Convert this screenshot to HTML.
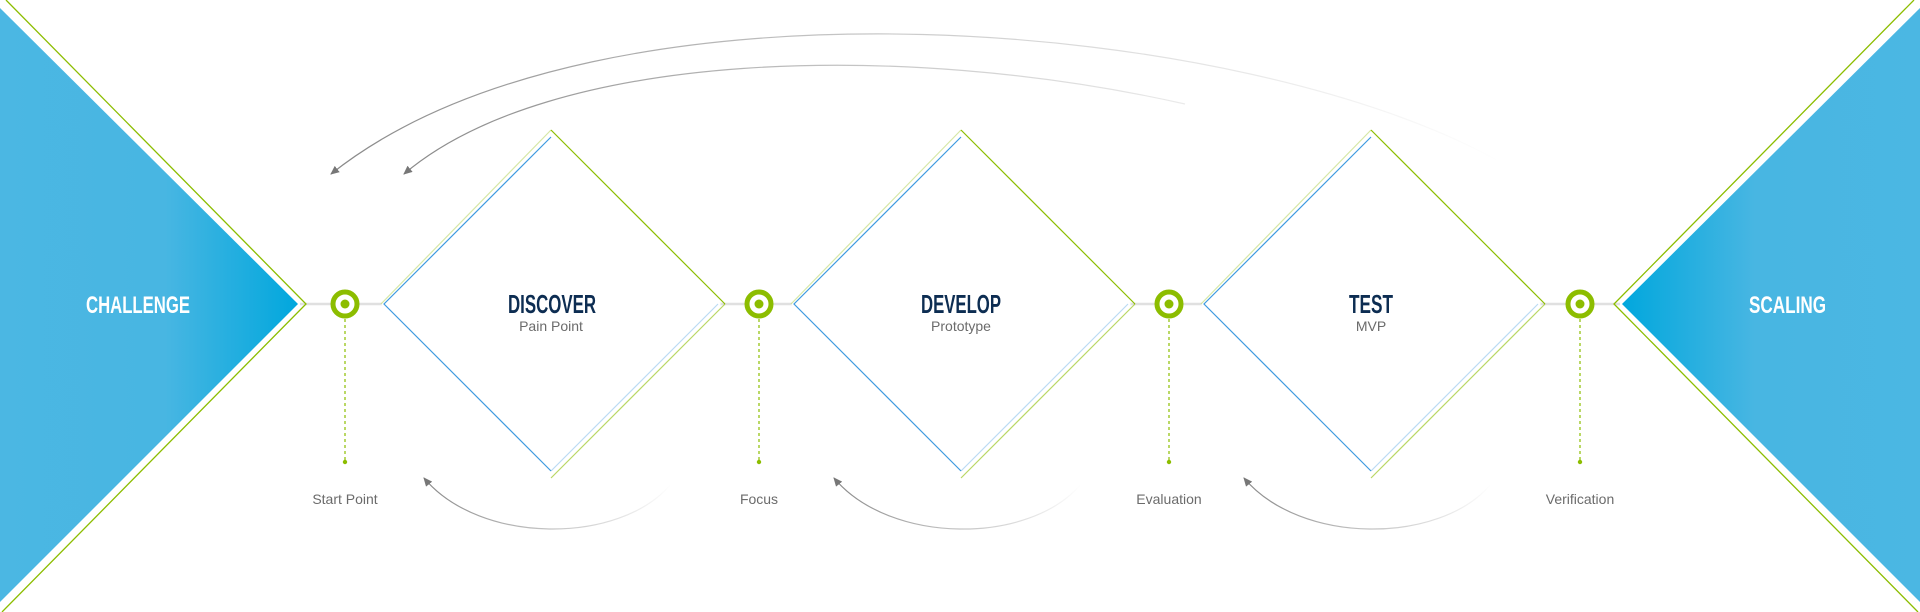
<!DOCTYPE html>
<html><head><meta charset="utf-8"><style>
html,body{margin:0;padding:0;background:#fff;overflow:hidden;}
svg{display:block;}
.t{font-family:"Liberation Sans Narrow","Liberation Sans",sans-serif;font-weight:bold;}
.s{font-family:"Liberation Sans",sans-serif;fill:#6b6b6b;}
</style></head><body>
<svg width="1920" height="612" viewBox="0 0 1920 612" xmlns="http://www.w3.org/2000/svg">
<defs>
<linearGradient id="tl" x1="0" y1="0" x2="300" y2="0" gradientUnits="userSpaceOnUse">
<stop offset="0" stop-color="#4bb7e3"/><stop offset="0.55" stop-color="#48b6e2"/><stop offset="1" stop-color="#00a7dd"/></linearGradient>
<linearGradient id="tr" x1="1920" y1="0" x2="1620" y2="0" gradientUnits="userSpaceOnUse">
<stop offset="0" stop-color="#4bb7e3"/><stop offset="0.55" stop-color="#48b6e2"/><stop offset="1" stop-color="#00a7dd"/></linearGradient>
<linearGradient id="a1" x1="1500" y1="0" x2="331" y2="0" gradientUnits="userSpaceOnUse">
<stop offset="0" stop-color="#999" stop-opacity="0"/><stop offset="0.5" stop-color="#999" stop-opacity="0.5"/><stop offset="1" stop-color="#888"/></linearGradient>
<linearGradient id="a2" x1="1185" y1="0" x2="404" y2="0" gradientUnits="userSpaceOnUse">
<stop offset="0" stop-color="#999" stop-opacity="0.2"/><stop offset="1" stop-color="#888"/></linearGradient>
<linearGradient id="b" x1="1" y1="0" x2="0" y2="0">
<stop offset="0" stop-color="#999" stop-opacity="0"/><stop offset="0.5" stop-color="#aaa" stop-opacity="0.7"/><stop offset="1" stop-color="#888"/></linearGradient>
<g id="dia">
<polygon points="0,-170 170,0 0,170 -170,0" fill="#fff"/>
<line x1="-170" y1="0" x2="0" y2="-174" stroke="#8cbd00" stroke-width="1.2" opacity="0.35"/>
<polyline points="0,-174 174,0" fill="none" stroke="#8cbd00" stroke-width="1.2"/>
<line x1="174" y1="0" x2="0" y2="174" stroke="#8cbd00" stroke-width="1.2" opacity="0.6"/>
<polyline points="0,-167 -167,0 0,167" fill="none" stroke="#3f9be0" stroke-width="1.2"/>
<line x1="0" y1="167" x2="167" y2="0" stroke="#3f9be0" stroke-width="1.2" opacity="0.35"/>
</g>
<g id="ring">
<circle r="12" fill="#fff" stroke="#8cbd00" stroke-width="5"/>
<circle r="4.5" fill="#8cbd00"/>
<line x1="0" y1="15" x2="0" y2="158" stroke="#8cbd00" stroke-width="1.2" stroke-dasharray="3,3"/>
<circle cx="0" cy="158" r="2.2" fill="#8cbd00"/>
</g>
<marker id="ar" markerWidth="10" markerHeight="10" refX="8" refY="5" orient="auto" markerUnits="userSpaceOnUse">
<path d="M0,1 L9,5 L0,9 Z" fill="#777"/></marker>
</defs>

<line x1="300" y1="304" x2="1620" y2="304" stroke="#e0e0e0" stroke-width="2.5"/>

<polygon points="0,8 298,304 0,602" fill="url(#tl)"/>
<polyline points="6,0 306,304 2,612" fill="none" stroke="#8cbd00" stroke-width="1.3"/>
<polygon points="1920,8 1622,304 1920,602" fill="url(#tr)"/>
<polyline points="1914,0 1614,304 1918,612" fill="none" stroke="#8cbd00" stroke-width="1.3"/>

<use href="#dia" x="551" y="304"/>
<use href="#dia" x="961" y="304"/>
<use href="#dia" x="1371" y="304"/>

<use href="#ring" x="345" y="304"/>
<use href="#ring" x="759" y="304"/>
<use href="#ring" x="1169" y="304"/>
<use href="#ring" x="1580" y="304"/>

<path d="M1500 162 C1250 20 600 -40 331 174" fill="none" stroke="url(#a1)" stroke-width="1.2" marker-end="url(#ar)"/>
<path d="M1185 104 C900 40 550 50 404 174" fill="none" stroke="url(#a2)" stroke-width="1.2" marker-end="url(#ar)"/>

<path d="M671 484 C620 545 480 545 424 478" fill="none" stroke="url(#b)" stroke-width="1.2" marker-end="url(#ar)"/>
<path d="M1081 484 C1030 545 890 545 834 478" fill="none" stroke="url(#b)" stroke-width="1.2" marker-end="url(#ar)"/>
<path d="M1491 484 C1440 545 1300 545 1244 478" fill="none" stroke="url(#b)" stroke-width="1.2" marker-end="url(#ar)"/>

<text class="t" x="86" y="313" font-size="24" fill="#fff" textLength="104" lengthAdjust="spacingAndGlyphs">CHALLENGE</text>
<text class="t" x="1749" y="313" font-size="24" fill="#fff" textLength="77" lengthAdjust="spacingAndGlyphs">SCALING</text>

<text class="t" x="508" y="313" font-size="26" fill="#0d2d52" textLength="88" lengthAdjust="spacingAndGlyphs">DISCOVER</text>
<text class="s" x="551" y="331" font-size="14" text-anchor="middle">Pain Point</text>
<text class="t" x="921" y="313" font-size="26" fill="#0d2d52" textLength="80" lengthAdjust="spacingAndGlyphs">DEVELOP</text>
<text class="s" x="961" y="331" font-size="14" text-anchor="middle">Prototype</text>
<text class="t" x="1349" y="313" font-size="26" fill="#0d2d52" textLength="44" lengthAdjust="spacingAndGlyphs">TEST</text>
<text class="s" x="1371" y="331" font-size="14" text-anchor="middle">MVP</text>

<text class="s" x="345" y="504" font-size="14" text-anchor="middle">Start Point</text>
<text class="s" x="759" y="504" font-size="14" text-anchor="middle">Focus</text>
<text class="s" x="1169" y="504" font-size="14" text-anchor="middle">Evaluation</text>
<text class="s" x="1580" y="504" font-size="14" text-anchor="middle">Verification</text>
</svg>
</body></html>
